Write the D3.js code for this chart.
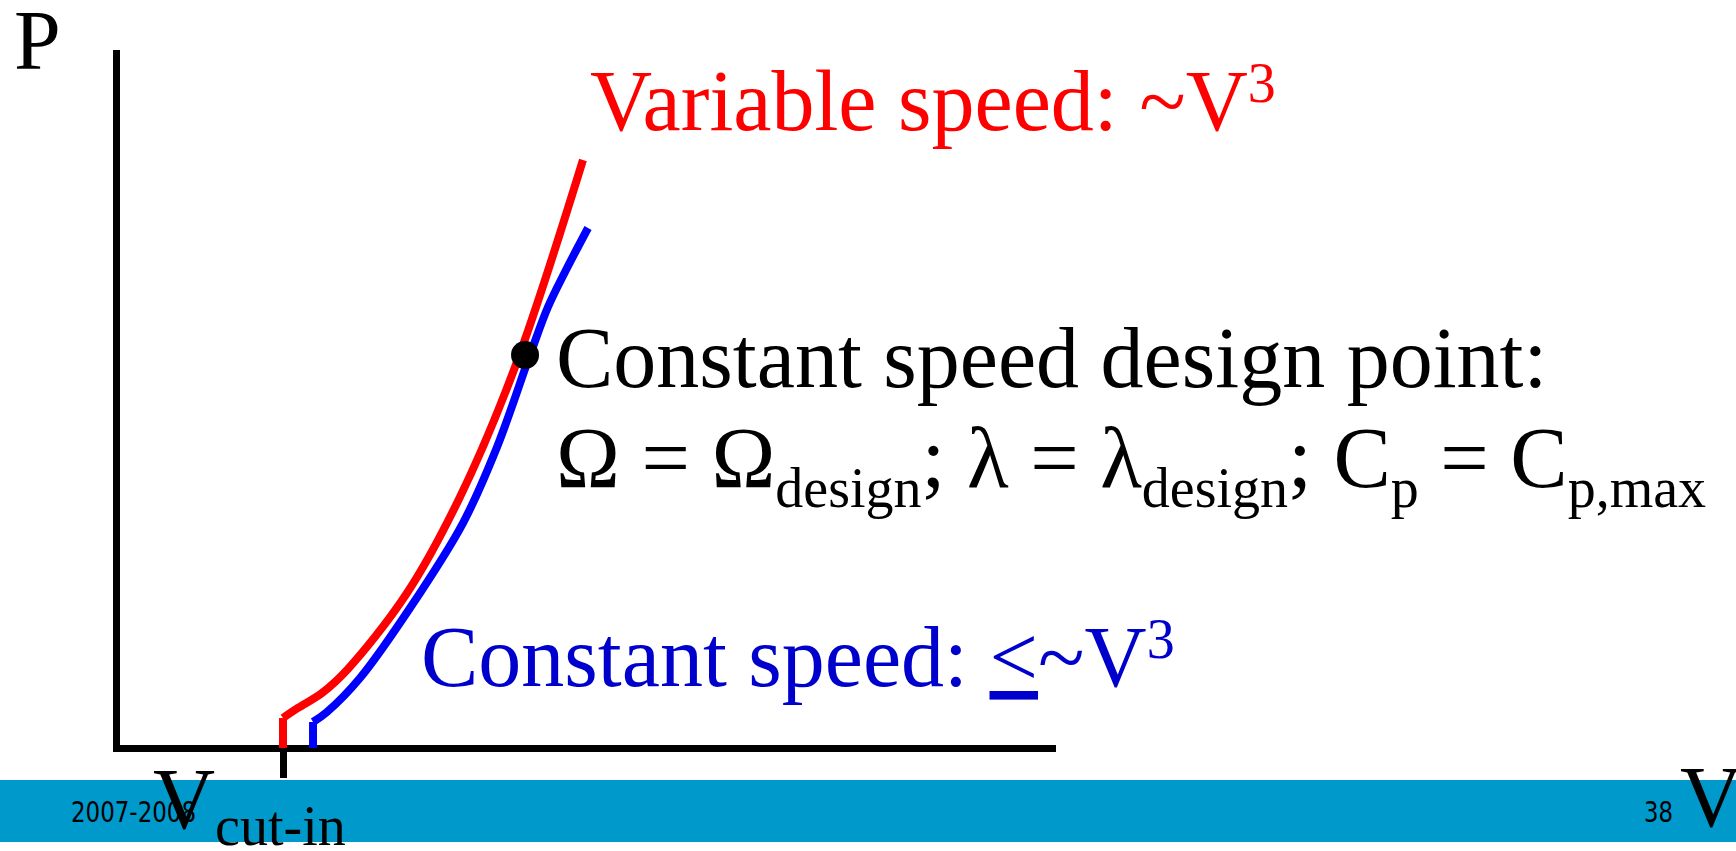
<!DOCTYPE html>
<html>
<head>
<meta charset="utf-8">
<script src="https://cdn.jsdelivr.net/npm/d3@7"></script>
<style>
  html, body { margin: 0; padding: 0; background: #fff; }
  svg { display: block; }
  .serif { font-family: "Liberation Serif", "Times New Roman", serif; }
  .sans { font-family: "Liberation Sans Narrow", "DejaVu Sans Condensed", "Open Sans", sans-serif; }
</style>
</head>
<body>
<svg id="chart" width="1736" height="851"></svg>
<script>
// ---- Data (V and P in relative units 0..100) ----
const cutInV = 17.84;

// Variable speed curve (~V^3)
const variableV = [17.84, 17.84, 19.44, 22.01, 24.68, 31.09, 36.75, 42.63, 49.89];
const variableP = [0, 4.32, 5.76, 7.91, 11.22, 22.30, 36.12, 54.82, 84.60];

// Constant speed curve (<= ~V^3)
const constantV = [21.05, 21.05, 22.54, 26.07, 31.41, 37.07, 40.71, 44.23, 46.15, 47.97, 50.43];
const constantP = [0, 3.74, 5.18, 10.07, 20.14, 32.37, 43.31, 56.55, 63.45, 68.49, 74.82];

// Design point
const designV = [43.70];
const designP = [56.55];

// Footer texts
const footerLeft = "2007-2008";
const footerRight = "38";

// ---- Layout ----
const svg = d3.select("#chart");
const x = d3.scaleLinear().domain([0, 100]).range([116, 1052]);
const y = d3.scaleLinear().domain([0, 100]).range([748, 53]);

// footer band
svg.append("rect").attr("x", 0).attr("y", 780).attr("width", 1736).attr("height", 62).attr("fill", "#0099CC");

// axes
const xAxis = d3.axisBottom(x).tickValues([cutInV]).tickSize(30).tickSizeOuter(0).tickFormat("");
const gx = svg.append("g").attr("transform", `translate(0,${y(0)})`).call(xAxis);
gx.select(".domain").attr("stroke", "#000").attr("stroke-width", 7).attr("stroke-linecap", "square");
gx.selectAll(".tick line").attr("stroke", "#000").attr("stroke-width", 7);

const yAxis = d3.axisLeft(y).tickValues([]).tickSizeOuter(0);
const gy = svg.append("g").attr("transform", `translate(${x(0)},0)`).call(yAxis);
gy.select(".domain").attr("stroke", "#000").attr("stroke-width", 7).attr("stroke-linecap", "square");

// curves
function drawCurve(vs, ps, color) {
  const pts = vs.map((v, i) => [v, ps[i]]);
  const straight = d3.line().x(d => x(d[0])).y(d => y(d[1]));
  const smooth = d3.line().x(d => x(d[0])).y(d => y(d[1])).curve(d3.curveCatmullRom.alpha(0.5));
  svg.append("path").attr("d", straight(pts.slice(0, 2)))
    .attr("fill", "none").attr("stroke", color).attr("stroke-width", 8);
  svg.append("path").attr("d", smooth(pts.slice(1)))
    .attr("fill", "none").attr("stroke", color).attr("stroke-width", 8);
}
drawCurve(constantV, constantP, "#0000FF");
drawCurve(variableV, variableP, "#FF0000");

// design point
svg.selectAll("circle.design").data(designV).enter().append("circle")
  .attr("class", "design")
  .attr("cx", d => x(d)).attr("cy", (d, i) => y(designP[i])).attr("r", 14).attr("fill", "#000");

// ---- Texts ----
const T = (xx, yy, size, fill, cls) => svg.append("text").attr("class", cls || "serif")
  .attr("x", xx).attr("y", yy).attr("font-size", size).attr("fill", fill || "#000");

T(14, 69, 84).text("P");

const red = T(590, 130, 86, "#FF0000");
red.append("tspan").text("Variable speed: ~V");
red.append("tspan").attr("font-size", 56).attr("dy", -28).text("3");

T(556, 387, 86).text("Constant speed design point:");

const eq = T(556, 487, 86);
eq.append("tspan").text("Ω = Ω");
eq.append("tspan").attr("font-size", 56).attr("dy", 20).text("design");
eq.append("tspan").attr("dy", -20).text("; λ = λ");
eq.append("tspan").attr("font-size", 56).attr("dy", 20).text("design");
eq.append("tspan").attr("dy", -20).text("; C");
eq.append("tspan").attr("font-size", 56).attr("dy", 20).text("p");
eq.append("tspan").attr("dy", -20).text(" = C");
eq.append("tspan").attr("font-size", 56).attr("dy", 20).text("p,max");

const blue = T(421, 686, 86, "#0000CC");
blue.append("tspan").text("Constant speed: ");
blue.append("tspan").attr("text-decoration", "underline").text("<");
blue.append("tspan").text("~V");
blue.append("tspan").attr("font-size", 56).attr("dy", -28).text("3");

// footer texts (drawn before the big V so the V sits on top)
T(71, 822, 29, "#000", "sans").attr("textLength", 125).attr("lengthAdjust", "spacingAndGlyphs").text(footerLeft);
T(1644, 822, 29, "#000", "sans").attr("textLength", 29).attr("lengthAdjust", "spacingAndGlyphs").text(footerRight);

const vc = T(153, 828, 86);
vc.append("tspan").text("V");
vc.append("tspan").attr("font-size", 56).attr("dy", 17).text("cut-in");

T(1680, 826, 86).text("V");
</script>
</body>
</html>
